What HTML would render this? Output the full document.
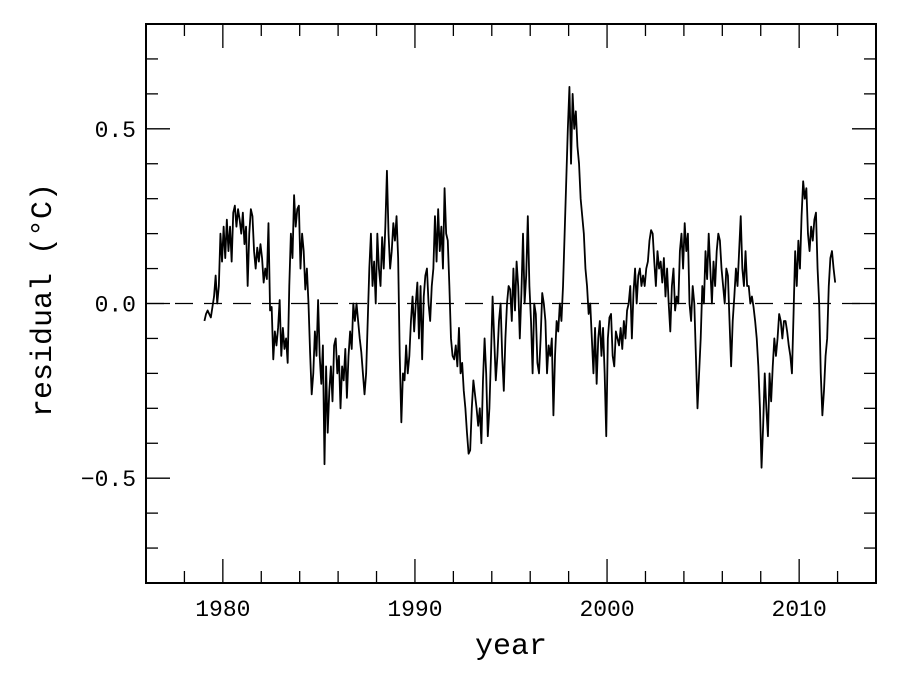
<!DOCTYPE html>
<html><head><meta charset="utf-8"><style>
html,body{margin:0;padding:0;background:#fff;width:902px;height:686px;overflow:hidden}
svg text{font-family:"Liberation Mono","DejaVu Sans Mono",monospace;fill:#000}
</style></head><body>
<svg id="chart" width="902" height="686" viewBox="0 0 902 686" xmlns="http://www.w3.org/2000/svg">
<rect x="146" y="24" width="730" height="559" fill="none" stroke="#000" stroke-width="2"/>
<g id="ticks"></g>
<g id="labels"></g>
<line id="zero" stroke="#000" stroke-width="1.2" stroke-dasharray="18,11"/>
<path id="series" fill="none" stroke="#000" stroke-width="1.8" stroke-linejoin="round"/>
<text x="511" y="654" font-size="30" text-anchor="middle">year</text>
<text transform="translate(51,300) rotate(-90)" font-size="30" text-anchor="middle">residual (°C)</text>
</svg>
<script>
const startYear = 1979;
const residuals = [
-0.05,-0.03,-0.02,-0.03,-0.04,-0.01,0.02,0.08,0.0,0.05,0.2,0.12,
0.22,0.13,0.24,0.15,0.22,0.12,0.26,0.28,0.22,0.27,0.24,0.2,
0.26,0.17,0.22,0.05,0.2,0.27,0.25,0.15,0.1,0.16,0.12,0.17,
0.13,0.06,0.1,0.07,0.23,-0.02,-0.01,-0.16,-0.08,-0.12,-0.07,0.01,
-0.15,-0.07,-0.13,-0.1,-0.17,0.05,0.2,0.13,0.31,0.22,0.27,0.28,
0.1,0.2,0.15,0.04,0.1,0.0,-0.14,-0.26,-0.2,-0.08,-0.15,0.01,
-0.15,-0.23,-0.12,-0.46,-0.18,-0.37,-0.25,-0.18,-0.28,-0.12,-0.1,-0.2,
-0.15,-0.3,-0.18,-0.22,-0.13,-0.27,-0.15,-0.08,-0.13,0.0,-0.05,0.0,
-0.05,-0.1,-0.14,-0.2,-0.26,-0.2,-0.05,0.1,0.2,0.05,0.12,0.0,
0.2,0.1,0.05,0.19,0.1,0.22,0.38,0.2,0.1,0.15,0.23,0.18,
0.25,0.13,-0.15,-0.34,-0.2,-0.22,-0.12,-0.2,-0.15,-0.05,0.02,-0.08,
0.0,0.06,-0.1,0.05,-0.16,0.02,0.08,0.1,0.0,-0.05,0.05,0.1,
0.25,0.12,0.27,0.15,0.22,0.1,0.33,0.2,0.18,0.05,-0.1,-0.15,
-0.16,-0.12,-0.18,-0.07,-0.2,-0.17,-0.25,-0.3,-0.37,-0.43,-0.42,-0.3,
-0.22,-0.26,-0.3,-0.35,-0.3,-0.4,-0.22,-0.1,-0.2,-0.38,-0.3,-0.15,
0.02,-0.1,-0.22,-0.15,-0.05,0.0,-0.15,-0.25,-0.1,0.0,0.05,0.04,
-0.05,0.1,-0.02,0.12,0.05,-0.1,0.03,0.2,0.0,0.08,0.25,0.05,
-0.05,-0.2,0.0,-0.03,-0.17,-0.2,-0.1,0.03,0.0,-0.05,-0.2,-0.12,
-0.15,-0.1,-0.32,-0.15,-0.05,-0.08,0.0,-0.05,0.05,0.2,0.35,0.5,
0.62,0.4,0.6,0.5,0.55,0.45,0.4,0.3,0.25,0.2,0.1,0.05,
-0.03,0.0,-0.1,-0.2,-0.07,-0.23,-0.1,-0.05,-0.15,-0.07,-0.2,-0.38,
-0.1,-0.04,-0.03,-0.15,-0.18,-0.08,-0.1,-0.12,-0.07,-0.13,-0.05,-0.1,
-0.02,0.0,0.05,-0.1,0.03,0.1,0.0,0.08,0.1,0.05,0.08,0.05,
0.1,0.12,0.18,0.21,0.2,0.12,0.05,0.15,0.1,0.12,0.06,0.13,
0.02,0.1,0.0,-0.08,0.05,0.1,-0.02,0.02,0.0,0.15,0.2,0.1,
0.23,0.15,0.2,0.0,-0.05,0.05,0.0,-0.15,-0.3,-0.2,-0.1,0.05,
0.0,0.15,0.07,0.2,0.1,0.0,0.12,0.05,0.15,0.2,0.18,0.1,
0.05,0.0,0.1,0.08,-0.05,-0.18,-0.05,0.02,0.1,0.05,0.15,0.25,
0.1,0.05,0.15,0.05,0.05,0.0,0.02,-0.01,-0.05,-0.1,-0.18,-0.3,
-0.47,-0.35,-0.2,-0.3,-0.38,-0.2,-0.28,-0.18,-0.1,-0.15,-0.1,-0.03,
-0.05,-0.1,-0.05,-0.05,-0.08,-0.12,-0.15,-0.2,-0.03,0.15,0.05,0.18,
0.1,0.25,0.35,0.3,0.33,0.2,0.15,0.22,0.18,0.24,0.26,0.1,
0.0,-0.2,-0.32,-0.25,-0.15,-0.1,0.05,0.13,0.15,0.1,0.06
];
const xTickLabels = [1980, 1990, 2000, 2010];
const yTickLabels = [-0.5, 0.0, 0.5];

const X0=146, X1=876, Y0=583, Y1=24, XMIN=1976, XMAX=2014, YMIN=-0.8, YMAX=0.8;
const xs = v => X0 + (v - XMIN) / (XMAX - XMIN) * (X1 - X0);
const ys = v => Y0 - (v - YMIN) / (YMAX - YMIN) * (Y0 - Y1);
const NS = "http://www.w3.org/2000/svg";
const ticks = document.getElementById('ticks');
const labels = document.getElementById('labels');
function ln(x1,y1,x2,y2){const l=document.createElementNS(NS,'line');l.setAttribute('x1',x1);l.setAttribute('y1',y1);l.setAttribute('x2',x2);l.setAttribute('y2',y2);l.setAttribute('stroke','#000');l.setAttribute('stroke-width','1.3');ticks.appendChild(l);return l;}
for (let yr = 1978; yr <= 2012; yr += 2) {
  const major = yr % 10 === 0, len = major ? 24 : 12, x = xs(yr);
  const a = ln(x, Y0, x, Y0 - len);
  
  
  const b = ln(x, Y1, x, Y1 + len);
  
  
}
for (let i = -7; i <= 7; i++) {
  const v = i / 10, major = i % 5 === 0, len = major ? 24 : 12, y = ys(v);
  const a = ln(X0, y, X0 + len, y);
  
  
  const b = ln(X1, y, X1 - len, y);
  
  
}
xTickLabels.forEach(v => {
  const t = document.createElementNS(NS, 'text');
  
  
  t.setAttribute('x', xs(v)); t.setAttribute('y', 616);
  t.setAttribute('font-size', '23'); t.setAttribute('text-anchor', 'middle');
  t.textContent = v; labels.appendChild(t);
});
yTickLabels.forEach(v => {
  const t = document.createElementNS(NS, 'text');
  
  
  t.setAttribute('x', 136); t.setAttribute('y', ys(v) + 8);
  t.setAttribute('font-size', '23'); t.setAttribute('text-anchor', 'end');
  t.textContent = (v < 0 ? '\u2212' : '') + Math.abs(v).toFixed(1); labels.appendChild(t);
});
const z = document.getElementById('zero');
z.setAttribute('x1', X0); z.setAttribute('x2', X1); z.setAttribute('y1', ys(0)); z.setAttribute('y2', ys(0));
let d = '';
residuals.forEach((v, i) => { const t = startYear + (i + 0.5) / 12; d += (i ? 'L' : 'M') + xs(t).toFixed(2) + ',' + ys(v).toFixed(2); });
document.getElementById('series').setAttribute('d', d);
</script>
</body></html>
